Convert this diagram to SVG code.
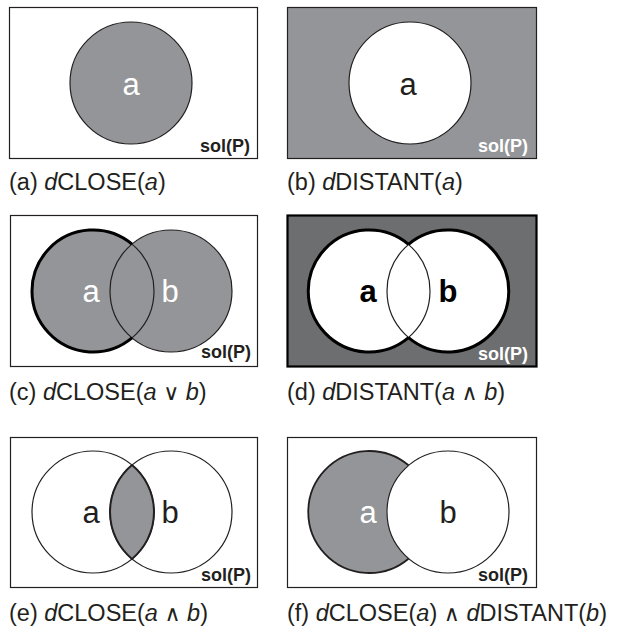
<svg xmlns="http://www.w3.org/2000/svg" width="624" height="631" viewBox="0 0 624 631">
  <style>
    .frame { fill: #ffffff; stroke: #231f20; stroke-width: 1.2; }
    .frame-dark { fill: #6d6e70; stroke: #000000; stroke-width: 2.2; }
    .frame-grey { fill: #939598; stroke: #231f20; stroke-width: 1.2; }
    .set { stroke: #231f20; stroke-width: 1.2; }
    .grey { fill: #939598; }
    .white { fill: #ffffff; }
    .none { fill: none; }
    .thick { fill: none; stroke: #000000; stroke-width: 3; }
    .lens { fill: #939598; stroke: #231f20; stroke-width: 2; }
    .lbl { font-family: "Liberation Sans", Arial, sans-serif; font-size: 31px; text-anchor: middle; }
    .lbl-bold { font-family: "Liberation Sans", Arial, sans-serif; font-size: 31px; font-weight: bold; text-anchor: middle; fill: #000; }
    .sol { font-family: "Liberation Sans", Arial, sans-serif; font-size: 18px; font-weight: bold; text-anchor: end; }
    .cap { font-family: "Liberation Sans", Arial, sans-serif; font-size: 23.5px; fill: #231f20; }
    .it { font-style: italic; }
    .op { font-family: "DejaVu Sans", sans-serif; font-size: 22px; }
    .ink { fill: #231f20; }
    .paper { fill: #ffffff; }
  </style>

  <!-- (a) dCLOSE(a) -->
  <g id="panel-a">
    <rect class="frame" x="9.5" y="7.5" width="248" height="151"/>
    <circle class="set grey" cx="131" cy="83" r="61"/>
    <text class="lbl paper" x="131" y="95">a</text>
    <text class="sol ink" x="250" y="152">sol(P)</text>
    <text class="cap" x="9" y="190">(a) <tspan class="it">d</tspan>CLOSE(<tspan class="it">a</tspan>)</text>
  </g>

  <!-- (b) dDISTANT(a) -->
  <g id="panel-b">
    <rect class="frame-grey" x="287.5" y="7.5" width="249" height="151"/>
    <circle class="set white" cx="410" cy="83" r="61"/>
    <text class="lbl ink" x="408" y="95">a</text>
    <text class="sol paper" x="528" y="152">sol(P)</text>
    <text class="cap" x="287" y="190">(b) <tspan class="it">d</tspan>DISTANT(<tspan class="it">a</tspan>)</text>
  </g>

  <!-- (c) dCLOSE(a ∨ b) -->
  <g id="panel-c">
    <rect class="frame" x="10.5" y="215.5" width="247" height="151"/>
    <circle class="set grey" cx="93" cy="291" r="61"/>
    <circle class="set grey" cx="171" cy="291" r="61"/>
    <circle class="set none" cx="93" cy="291" r="61"/>
    <path class="thick" d="M132,244.1 A61,61 0 1,0 132,337.9"/>
    <text class="lbl paper" x="91" y="302">a</text>
    <text class="lbl paper" x="170" y="302">b</text>
    <text class="sol ink" x="251" y="358">sol(P)</text>
    <text class="cap" x="9" y="400">(c) <tspan class="it">d</tspan>CLOSE(<tspan class="it">a</tspan> <tspan class="op">∨</tspan> <tspan class="it">b</tspan>)</text>
  </g>

  <!-- (d) dDISTANT(a ∧ b) -->
  <g id="panel-d">
    <rect class="frame-dark" x="287.5" y="215.5" width="249" height="151"/>
    <circle class="set white" cx="369" cy="291" r="61"/>
    <circle class="set white" cx="448" cy="291" r="61"/>
    <circle class="set none" cx="369" cy="291" r="61"/>
    <path class="thick" d="M408.5,244.3 A61,61 0 1,0 408.5,337.7"/>
    <path class="thick" d="M408.5,244.3 A61,61 0 1,1 408.5,337.7"/>
    <text class="lbl-bold" x="368" y="302">a</text>
    <text class="lbl-bold" x="448" y="302">b</text>
    <text class="sol paper" x="528" y="360">sol(P)</text>
    <text class="cap" x="287" y="400">(d) <tspan class="it">d</tspan>DISTANT(<tspan class="it">a</tspan> <tspan class="op">∧</tspan> <tspan class="it">b</tspan>)</text>
  </g>

  <!-- (e) dCLOSE(a ∧ b) -->
  <g id="panel-e">
    <rect class="frame" x="10.5" y="437.5" width="247" height="150"/>
    <circle class="set white" cx="93" cy="512" r="61"/>
    <circle class="set none" cx="171" cy="512" r="61"/>
    <path class="lens" d="M132,465.1 A61,61 0 0,1 132,558.9 A61,61 0 0,1 132,465.1 Z"/>
    <text class="lbl ink" x="91" y="523">a</text>
    <text class="lbl ink" x="170" y="523">b</text>
    <text class="sol ink" x="251" y="581">sol(P)</text>
    <text class="cap" x="9" y="621">(e) <tspan class="it">d</tspan>CLOSE(<tspan class="it">a</tspan> <tspan class="op">∧</tspan> <tspan class="it">b</tspan>)</text>
  </g>

  <!-- (f) dCLOSE(a) ∧ dDISTANT(b) -->
  <g id="panel-f">
    <rect class="frame" x="287.5" y="437.5" width="249" height="150"/>
    <path class="grey" d="M408.5,465.3 A61,61 0 1,0 408.5,558.7 A61,61 0 0,1 408.5,465.3 Z"/>
    <path class="none" stroke="#231f20" stroke-width="1.8" d="M408.5,465.3 A61,61 0 1,0 408.5,558.7"/>
    <circle class="set none" cx="448" cy="512" r="61"/>
    <text class="lbl paper" x="368" y="523">a</text>
    <text class="lbl ink" x="448" y="523">b</text>
    <text class="sol ink" x="528" y="581">sol(P)</text>
    <text class="cap" x="287" y="621">(f) <tspan class="it">d</tspan>CLOSE(<tspan class="it">a</tspan>) <tspan class="op">∧</tspan> <tspan class="it">d</tspan>DISTANT(<tspan class="it">b</tspan>)</text>
  </g>
</svg>
